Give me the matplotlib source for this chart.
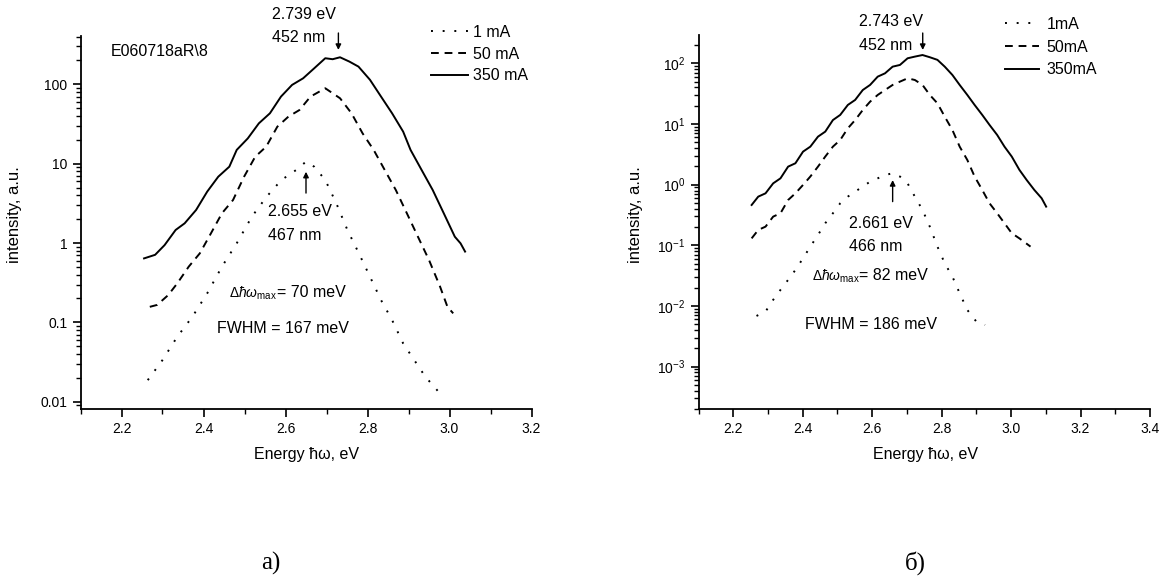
import matplotlib
matplotlib.use("Agg")
import matplotlib.pyplot as plt
from matplotlib.ticker import MultipleLocator, FuncFormatter, LogLocator, NullFormatter

plt.rcParams['font.family'] = ['Liberation Sans', 'DejaVu Sans']
plt.rcParams['mathtext.fontset'] = 'custom'
plt.rcParams['mathtext.rm'] = 'Liberation Sans'
plt.rcParams['mathtext.it'] = 'Liberation Sans:italic'
plt.rcParams['mathtext.bf'] = 'Liberation Sans:bold'

# ---------------- data: panel a ----------------
a_x_350 = [2.255, 2.282, 2.305, 2.332, 2.354, 2.382, 2.409, 2.436, 2.463, 2.481, 2.508, 2.535,
           2.562, 2.589, 2.616, 2.643, 2.670, 2.697, 2.715, 2.733, 2.756, 2.778, 2.806, 2.833,
           2.860, 2.887, 2.905, 2.932, 2.959, 2.986, 3.013, 3.027, 3.038]
a_y_350 = [0.64, 0.71, 0.94, 1.46, 1.77, 2.61, 4.44, 6.85, 9.16, 14.9, 20.8, 32.2,
           43.1, 70.0, 98.2, 119, 159, 213, 207, 219, 193, 167, 114, 70.0,
           43.1, 25.3, 14.9, 8.32, 4.66, 2.37, 1.20, 0.99, 0.78]

a_x_50 = [2.269, 2.287, 2.314, 2.336, 2.364, 2.391, 2.418, 2.445, 2.472, 2.499, 2.526, 2.553,
          2.580, 2.607, 2.634, 2.661, 2.697, 2.733, 2.761, 2.788, 2.815, 2.842, 2.869, 2.896,
          2.923, 2.950, 2.977, 2.995, 3.009]
a_y_50 = [0.157, 0.166, 0.221, 0.310, 0.504, 0.741, 1.32, 2.37, 3.48, 6.85, 12.2, 16.4,
          29.2, 39.1, 47.4, 70.0, 89.1, 66.7, 43.1, 24.1, 14.9, 8.32, 4.66, 2.37,
          1.20, 0.611, 0.282, 0.157, 0.130]

a_x_1 = [2.264, 2.300, 2.336, 2.373, 2.409, 2.445, 2.481, 2.518, 2.554, 2.590, 2.626, 2.650,
         2.670, 2.697, 2.724, 2.751, 2.779, 2.806, 2.833, 2.860, 2.887, 2.914, 2.941, 2.973]
a_y_1 = [0.0187, 0.0335, 0.0659, 0.118, 0.232, 0.504, 0.991, 2.15, 3.84, 6.22, 8.32, 10.6,
         9.16, 6.22, 3.16, 1.46, 0.741, 0.377, 0.191, 0.107, 0.0543, 0.0335, 0.0207, 0.0134]

# ---------------- data: panel b ----------------
b_x_350 = [2.253, 2.272, 2.293, 2.315, 2.336, 2.358, 2.379, 2.401, 2.422, 2.444, 2.465, 2.487,
           2.508, 2.530, 2.551, 2.573, 2.594, 2.616, 2.637, 2.659, 2.680, 2.702, 2.723, 2.745,
           2.766, 2.788, 2.809, 2.831, 2.852, 2.874, 2.895, 2.917, 2.938, 2.960, 2.981, 3.002,
           3.024, 3.045, 3.067, 3.088, 3.101]
b_y_350 = [0.462, 0.634, 0.719, 1.05, 1.27, 1.98, 2.25, 3.50, 4.23, 6.18, 7.48, 11.6,
           14.1, 20.6, 24.9, 36.3, 44.0, 60.3, 68.4, 88.1, 94.0, 121, 129, 137,
           126, 114, 88.1, 64.3, 44.0, 30.1, 20.6, 14.1, 9.64, 6.59, 4.23, 2.90,
           1.75, 1.19, 0.817, 0.596, 0.434]

b_x_50 = [2.253, 2.272, 2.293, 2.315, 2.336, 2.358, 2.379, 2.401, 2.422, 2.444, 2.465, 2.487,
          2.508, 2.530, 2.551, 2.573, 2.594, 2.616, 2.637, 2.659, 2.680, 2.702, 2.723, 2.745,
          2.766, 2.788, 2.809, 2.831, 2.852, 2.874, 2.895, 2.917, 2.938, 2.960, 2.981, 3.002,
          3.024, 3.056]
b_y_50 = [0.130, 0.179, 0.203, 0.297, 0.337, 0.558, 0.719, 0.989, 1.36, 1.98, 2.90, 4.23,
          5.44, 8.49, 11.6, 17.0, 23.3, 30.1, 36.3, 44.0, 49.9, 56.6, 53.1, 44.0,
          30.1, 21.9, 13.2, 7.96, 4.23, 2.55, 1.36, 0.817, 0.492, 0.337, 0.231, 0.158,
          0.130, 0.0951]

b_x_1 = [2.267, 2.293, 2.315, 2.336, 2.358, 2.379, 2.401, 2.422, 2.444, 2.465, 2.487, 2.508,
         2.530, 2.551, 2.573, 2.594, 2.616, 2.637, 2.659, 2.680, 2.702, 2.723, 2.745, 2.766,
         2.788, 2.809, 2.831, 2.852, 2.874, 2.900, 2.925]
b_y_1 = [0.00684, 0.00807, 0.0126, 0.0184, 0.0269, 0.0392, 0.0611, 0.0951, 0.148, 0.231, 0.337, 0.492,
         0.634, 0.767, 0.927, 1.12, 1.27, 1.44, 1.54, 1.36, 1.05, 0.634, 0.382, 0.203,
         0.0951, 0.0505, 0.0305, 0.0162, 0.00859, 0.00552, 0.00486]

a_labels = ["1 mA", "50 mA", "350 mA"]
b_labels = ["1mA", "50mA", "350mA"]

W, H = 1164, 579
fig = plt.figure(figsize=(W / 100, H / 100), dpi=100)

def px_axes(x0, x1, ytop, ybot):
    return fig.add_axes([x0 / W, 1 - ybot / H, (x1 - x0) / W, (ybot - ytop) / H])

axA = px_axes(80.5, 531.5, 36, 409)
axB = px_axes(698.5, 1150, 35, 409)

DOT = (0, (1, 5))
DASH = (0, (4, 3))
FS = 11.5
ARROW = dict(arrowstyle='-|>', color='k', lw=1.0, mutation_scale=8, shrinkA=0, shrinkB=0)

def style(ax, xmax):
    ax.set_yscale('log')
    for s in ['top', 'right']:
        ax.spines[s].set_visible(False)
    for s in ['left', 'bottom']:
        ax.spines[s].set_linewidth(1.3)
    ax.set_xlim(2.1, xmax)
    ax.xaxis.set_major_locator(MultipleLocator(0.2))
    ax.xaxis.set_minor_locator(MultipleLocator(0.1))
    ax.xaxis.set_major_formatter(FuncFormatter(lambda v, p: f"{v:.1f}"))
    ax.tick_params(which='major', direction='out', length=6, width=1.2, labelsize=10)
    ax.tick_params(which='minor', direction='out', length=3.5, width=1.0)
    ax.yaxis.set_major_locator(LogLocator(base=10, numticks=12))
    ax.yaxis.set_minor_locator(LogLocator(base=10, subs=range(2, 10), numticks=12))
    ax.yaxis.set_minor_formatter(NullFormatter())

# ---------- panel a ----------
l1, = axA.plot(a_x_1, a_y_1, color='k', lw=1.4, ls=DOT)
l2, = axA.plot(a_x_50, a_y_50, color='k', lw=1.4, ls=DASH)
l3, = axA.plot(a_x_350, a_y_350, color='k', lw=1.4, ls='-')
style(axA, 3.2)
axA.set_ylim(0.0081, 406)
axA.yaxis.set_major_formatter(FuncFormatter(lambda v, p: f"{v:g}"))

axA.text(2.567, 748, "2.739 eV", fontsize=FS, ha='left', va='center', clip_on=False)
axA.text(2.567, 394, "452 nm", fontsize=FS, ha='left', va='center', clip_on=False)
axA.annotate("", xy=(2.729, 271), xytext=(2.729, 443), annotation_clip=False, arrowprops=ARROW)
axA.text(2.557, 2.47, "2.655 eV", fontsize=FS, ha='left', va='center')
axA.text(2.557, 1.26, "467 nm", fontsize=FS, ha='left', va='center')
axA.annotate("", xy=(2.650, 7.9), xytext=(2.650, 4.26), arrowprops=ARROW)
axA.text(2.463, 0.208, r"$\Delta\hbar\omega_{\rm max}$", fontsize=10, ha='left', va='baseline')
axA.text(2.580, 0.208, "= 70 meV", fontsize=FS, ha='left', va='baseline')
axA.text(2.432, 0.0845, "FWHM = 167 meV", fontsize=FS, ha='left', va='center')
axA.text(2.174, 258, "E060718aR\\8", fontsize=FS, ha='left', va='center')
axA.legend([l1, l2, l3], a_labels, loc='upper left', bbox_to_anchor=(431 / W, 1 - 25 / H),
           bbox_transform=fig.transFigure, frameon=False, fontsize=FS, handlelength=2.3,
           handletextpad=0.3, labelspacing=0.42, borderpad=0, borderaxespad=0)

# ---------- panel b ----------
m1, = axB.plot(b_x_1, b_y_1, color='k', lw=1.4, ls=DOT)
m2, = axB.plot(b_x_50, b_y_50, color='k', lw=1.4, ls=DASH)
m3, = axB.plot(b_x_350, b_y_350, color='k', lw=1.4, ls='-')
style(axB, 3.4)
axB.set_ylim(2.0e-4, 293)

axB.text(2.563, 484, "2.743 eV", fontsize=FS, ha='left', va='center', clip_on=False)
axB.text(2.563, 200, "452 nm", fontsize=FS, ha='left', va='center', clip_on=False)
axB.annotate("", xy=(2.7456, 166), xytext=(2.7456, 316), annotation_clip=False, arrowprops=ARROW)
axB.text(2.533, 0.231, "2.661 eV", fontsize=FS, ha='left', va='center')
axB.text(2.533, 0.095, "466 nm", fontsize=FS, ha='left', va='center')
axB.annotate("", xy=(2.659, 1.19), xytext=(2.659, 0.525), arrowprops=ARROW)
axB.text(2.426, 0.0263, r"$\Delta\hbar\omega_{\rm max}$", fontsize=10, ha='left', va='baseline')
axB.text(2.563, 0.0263, "= 82 meV", fontsize=FS, ha='left', va='baseline')
axB.text(2.407, 0.00489, "FWHM = 186 meV", fontsize=FS, ha='left', va='center')
axB.legend([m1, m2, m3], b_labels, loc='upper left', bbox_to_anchor=(1005 / W, 1 - 17 / H),
           bbox_transform=fig.transFigure, frameon=False, fontsize=FS, handlelength=2.1,
           handletextpad=0.5, labelspacing=0.48, borderpad=0, borderaxespad=0)

# ---------- axis labels and captions ----------
fig.text(15 / W, 1 - 215 / H, "intensity, a.u.", rotation=90, ha='center', va='center', fontsize=12)
fig.text(636 / W, 1 - 215 / H, "intensity, a.u.", rotation=90, ha='center', va='center', fontsize=12)
fig.text(306 / W, 1 - 455 / H, "Energy ħω, eV", ha='center', va='center', fontsize=FS)
fig.text(926 / W, 1 - 455 / H, "Energy ħω, eV", ha='center', va='center', fontsize=FS)
fig.text(271 / W, 1 - 563 / H, "а)", ha='center', va='center', fontsize=18,
         family=['Liberation Serif', 'DejaVu Serif'])
fig.text(915 / W, 1 - 563 / H, "б)", ha='center', va='center', fontsize=18,
         family=['Liberation Serif', 'DejaVu Serif'])

fig.savefig("out.png", dpi=100)
